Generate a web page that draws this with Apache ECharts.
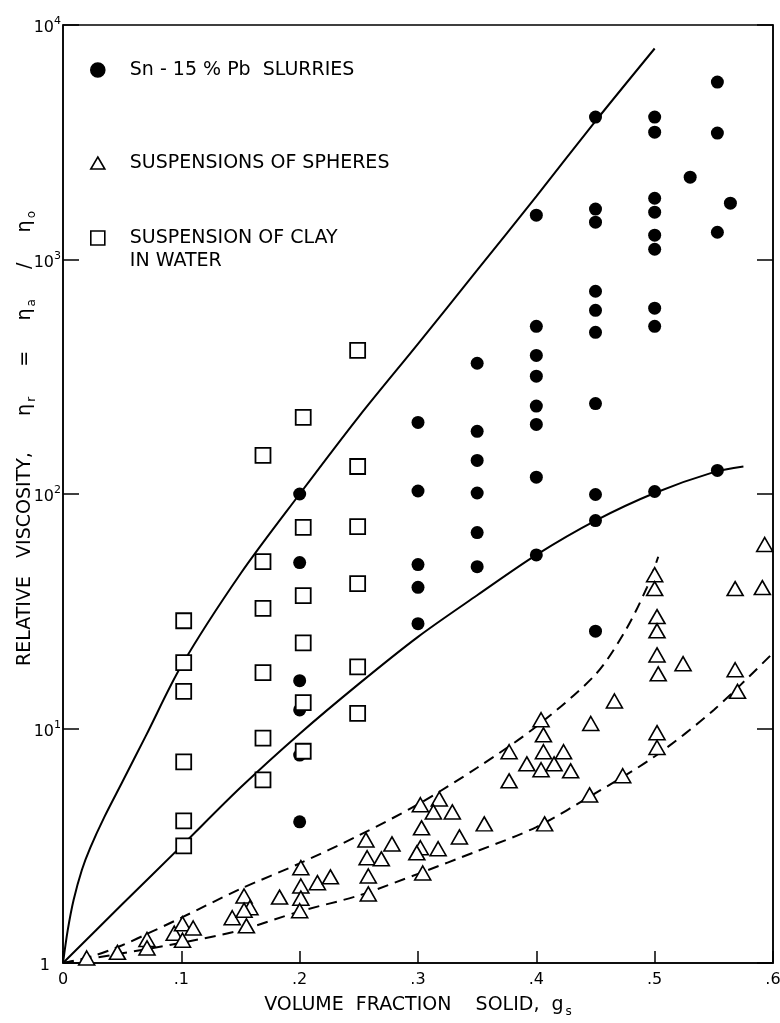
<!DOCTYPE html>
<html>
<head>
<meta charset="utf-8">
<script src="https://cdn.jsdelivr.net/npm/echarts@6/dist/echarts.min.js"></script>
<style>
  html, body { margin: 0; padding: 0; background: #fff; }
  #chart { width: 780px; height: 1023px; }
</style>
</head>
<body>
<div id="chart"></div>
<script>
// Relative viscosity vs. volume fraction solid (log scale)
const FONT = 'DejaVu Sans';
const INK = '#000';

// axis tick labels
const xTickLabels = ['0', '.1', '.2', '.3', '.4', '.5', '.6'];
const yTickExponents = [0, 1, 2, 3, 4];

// series names
const nameSlurry = 'Sn - 15 % Pb  SLURRIES';
const nameSpheres = 'SUSPENSIONS OF SPHERES';
const nameClay = 'SUSPENSION OF CLAY IN WATER';

// Sn-15%Pb slurries: [volume fraction, relative viscosity]
const slurry = [
  [0.2, 100], [0.2, 51], [0.2, 16], [0.2, 12], [0.2, 7.7], [0.2, 4.0],
  [0.3, 202], [0.3, 103], [0.3, 50], [0.3, 40], [0.3, 28],
  [0.35, 361], [0.35, 185], [0.35, 139], [0.35, 101], [0.35, 68.5], [0.35, 49],
  [0.4, 1545], [0.4, 519], [0.4, 390], [0.4, 318], [0.4, 237], [0.4, 198], [0.4, 118], [0.4, 55],
  [0.45, 4050], [0.45, 1640], [0.45, 1443], [0.45, 732], [0.45, 607], [0.45, 489], [0.45, 243], [0.45, 99.5], [0.45, 77], [0.45, 26],
  [0.5, 4050], [0.5, 3490], [0.5, 1825], [0.5, 1592], [0.5, 1270], [0.5, 1106], [0.5, 620], [0.5, 519], [0.5, 102.5],
  [0.53, 2245],
  [0.553, 5710], [0.553, 3460], [0.553, 1307], [0.553, 126],
  [0.564, 1738]
];

// suspensions of spheres
const spheres = [
  [0.020, 1.05], [0.046, 1.11], [0.071, 1.26], [0.071, 1.16],
  [0.094, 1.34], [0.101, 1.47], [0.110, 1.41], [0.101, 1.25],
  [0.143, 1.56], [0.153, 1.93], [0.158, 1.72], [0.153, 1.68], [0.155, 1.44],
  [0.183, 1.91], [0.201, 2.55], [0.201, 2.13], [0.201, 1.89], [0.200, 1.67],
  [0.215, 2.20], [0.226, 2.33],
  [0.256, 3.35], [0.257, 2.81], [0.269, 2.78], [0.258, 2.35], [0.258, 1.97], [0.278, 3.22],
  [0.302, 4.73], [0.318, 5.01], [0.313, 4.41], [0.329, 4.41], [0.303, 3.77],
  [0.302, 3.10], [0.299, 2.95], [0.317, 3.07], [0.304, 2.42], [0.335, 3.45], [0.356, 3.92],
  [0.377, 5.98], [0.377, 7.96], [0.392, 7.07], [0.404, 6.67], [0.415, 7.07], [0.429, 6.6],
  [0.423, 7.96], [0.406, 7.96], [0.406, 9.4], [0.404, 10.9], [0.407, 3.92],
  [0.445, 5.21], [0.446, 10.5], [0.466, 13.1], [0.473, 6.29],
  [0.500, 45.3], [0.500, 39.5], [0.502, 30.0], [0.502, 26.1], [0.502, 20.6], [0.503, 17.1],
  [0.502, 9.6], [0.502, 8.3], [0.524, 18.9],
  [0.568, 39.5], [0.568, 17.8], [0.570, 14.4], [0.591, 39.9], [0.593, 60.9]
];

// suspension of clay in water
const clay = [
  [0.102, 28.8], [0.102, 19.1], [0.102, 14.4], [0.102, 7.2], [0.102, 4.04], [0.102, 3.16],
  [0.169, 146], [0.169, 51.5], [0.169, 32.5], [0.169, 17.3], [0.169, 9.1], [0.169, 6.04],
  [0.203, 212], [0.203, 72], [0.203, 36.9], [0.203, 23.2], [0.203, 12.9], [0.203, 8.0],
  [0.249, 410], [0.249, 131], [0.249, 72.6], [0.249, 41.5], [0.249, 18.3], [0.249, 11.6]
];

// bounding curves
const upperSolid = [
  [0, 1], [0.004, 1.38], [0.009, 1.86], [0.016, 2.5], [0.023, 3.1], [0.035, 4.2],
  [0.05, 5.9], [0.07, 9.3], [0.1, 18.5], [0.15, 45.7], [0.2, 100], [0.25, 214],
  [0.3, 437], [0.35, 900], [0.4, 1860], [0.45, 3890], [0.5, 7940]
];
const lowerSolid = [
  [0, 1], [0.05, 1.78], [0.1, 3.15], [0.15, 5.6], [0.2, 9.5], [0.25, 15.5],
  [0.3, 24.6], [0.35, 37], [0.4, 55], [0.45, 77], [0.5, 101], [0.55, 124], [0.575, 131]
];
const upperDashed = [
  [0, 1], [0.025, 1.07], [0.05, 1.19], [0.075, 1.36], [0.1, 1.56], [0.15, 2.07],
  [0.2, 2.66], [0.25, 3.5], [0.3, 4.75], [0.35, 6.8], [0.4, 10.2], [0.45, 17],
  [0.475, 26], [0.4935, 40], [0.503, 54]
];
const lowerDashed = [
  [0, 1], [0.05, 1.1], [0.1, 1.22], [0.15, 1.38], [0.2, 1.66], [0.25, 1.94],
  [0.3, 2.4], [0.35, 3.0], [0.4, 3.8], [0.45, 5.3], [0.5, 7.6], [0.55, 12], [0.6, 21]
];

const chart = echarts.init(document.getElementById('chart'), null, { renderer: 'canvas' });

function curve(data, dashed) {
  return {
    type: 'line',
    data: data,
    showSymbol: false,
    symbol: 'none',
    smooth: 0.3,
    silent: true,
    z: 1,
    lineStyle: { color: INK, width: 2, type: dashed ? [11, 7] : 'solid' }
  };
}

const tickLabelRich = {
  b: { fontFamily: FONT, fontSize: 16, color: INK, lineHeight: 24 },
  s: { fontFamily: FONT, fontSize: 11, color: INK, lineHeight: 10, verticalAlign: 'top' },
  one: { fontFamily: FONT, fontSize: 16, color: INK, lineHeight: 24, padding: [0, 11, 0, 0] }
};

function yLabel(v) {
  const e = Math.round(Math.log10(v));
  if (yTickExponents.indexOf(e) < 0) return '';
  return e === 0 ? '{one|1}' : '{b|10}{s|' + e + '}';
}

const nameRich = {
  t: { fontFamily: FONT, fontSize: 19, color: INK, lineHeight: 26 },
  sub: { fontFamily: FONT, fontSize: 12, color: INK, lineHeight: 6, verticalAlign: 'bottom', padding: [0, 0, 0, 2] }
};

const legendRich = {
  a: { fontFamily: FONT, fontSize: 19, color: INK, lineHeight: 23 }
};

function legendBlock(name, top, w, h, extra) {
  return Object.assign({
    data: [name],
    left: 90,
    top: top,
    orient: 'vertical',
    padding: 0,
    itemWidth: w,
    itemHeight: h,
    selectedMode: false,
    itemStyle: { borderWidth: 1.6, borderColor: INK },
    textStyle: { fontFamily: FONT, fontSize: 19, color: INK, lineHeight: 20, padding: [0, 0, 0, 20] }
  }, extra || {});
}

const option = {
  animation: false,
  backgroundColor: '#fff',
  grid: {
    left: 63, right: 7, top: 25, bottom: 60,
    outerBoundsMode: 'none',
    containLabel: false,
    show: true, borderColor: INK, borderWidth: 1.5, backgroundColor: 'transparent'
  },
  xAxis: {
    type: 'value',
    min: 0, max: 0.6, interval: 0.1,
    name: '{t|VOLUME  FRACTION    SOLID,  g}{sub|s}',
    nameLocation: 'middle',
    nameGap: 29,
    nameMoveOverlap: false,
    nameTextStyle: { rich: nameRich },
    axisLine: { lineStyle: { color: INK, width: 1.5 } },
    axisTick: { inside: true, length: 12, lineStyle: { color: INK, width: 1.5 } },
    axisLabel: {
      margin: 9, fontFamily: FONT, fontSize: 16, color: INK,
      formatter: v => xTickLabels[Math.round(v * 10)]
    },
    splitLine: { show: false }
  },
  yAxis: [
    {
      type: 'log', logBase: 10, min: 1, max: 10000,
      name: '{t|RELATIVE   VISCOSITY,      η}{sub|r}{t|     =     η}{sub|a}{t|     /     η}{sub|o}',
      nameLocation: 'middle',
      nameGap: 25,
      nameMoveOverlap: false,
      nameTextStyle: { rich: nameRich, padding: [0, 0, 0, 111] },
      axisLine: { lineStyle: { color: INK, width: 1.5 } },
      axisTick: { inside: true, length: 16, lineStyle: { color: INK, width: 1.5 } },
      minorTick: { show: false },
      axisLabel: { margin: 2, padding: [6, 0, 0, 0], formatter: yLabel, rich: tickLabelRich },
      splitLine: { show: false }
    },
    {
      type: 'log', logBase: 10, min: 1, max: 10000,
      position: 'right',
      axisLine: { lineStyle: { color: INK, width: 1.5 } },
      axisTick: { inside: true, length: 16, lineStyle: { color: INK, width: 1.5 } },
      axisLabel: { show: false },
      splitLine: { show: false }
    }
  ],
  legend: [
    legendBlock(nameSlurry, 60, 14, 14),
    legendBlock(nameSpheres, 153, 14, 12),
    legendBlock(nameClay, 228.5, 14, 14, {
      formatter: n => '{a|' + n.replace(' IN WATER', '}\n{a|IN WATER') + '}',
      textStyle: { rich: legendRich, padding: [23, 0, 0, 20] }
    })
  ],
  series: [
    curve(upperSolid, false),
    curve(lowerSolid, false),
    curve(upperDashed, true),
    curve(lowerDashed, true),
    {
      name: nameSlurry,
      type: 'scatter',
      data: slurry,
      symbol: 'circle',
      symbolSize: 13,
      z: 3,
      itemStyle: { color: INK, opacity: 1 }
    },
    {
      name: nameSpheres,
      type: 'scatter',
      data: spheres,
      symbol: 'triangle',
      symbolSize: [16, 14],
      z: 3,
      itemStyle: { color: '#fff', borderColor: INK, borderWidth: 1.6, opacity: 1 }
    },
    {
      name: nameClay,
      type: 'scatter',
      data: clay,
      symbol: 'rect',
      symbolSize: 15,
      z: 3,
      itemStyle: { color: '#fff', borderColor: INK, borderWidth: 1.8, opacity: 1 }
    }
  ]
};

chart.setOption(option);
</script>
</body>
</html>
